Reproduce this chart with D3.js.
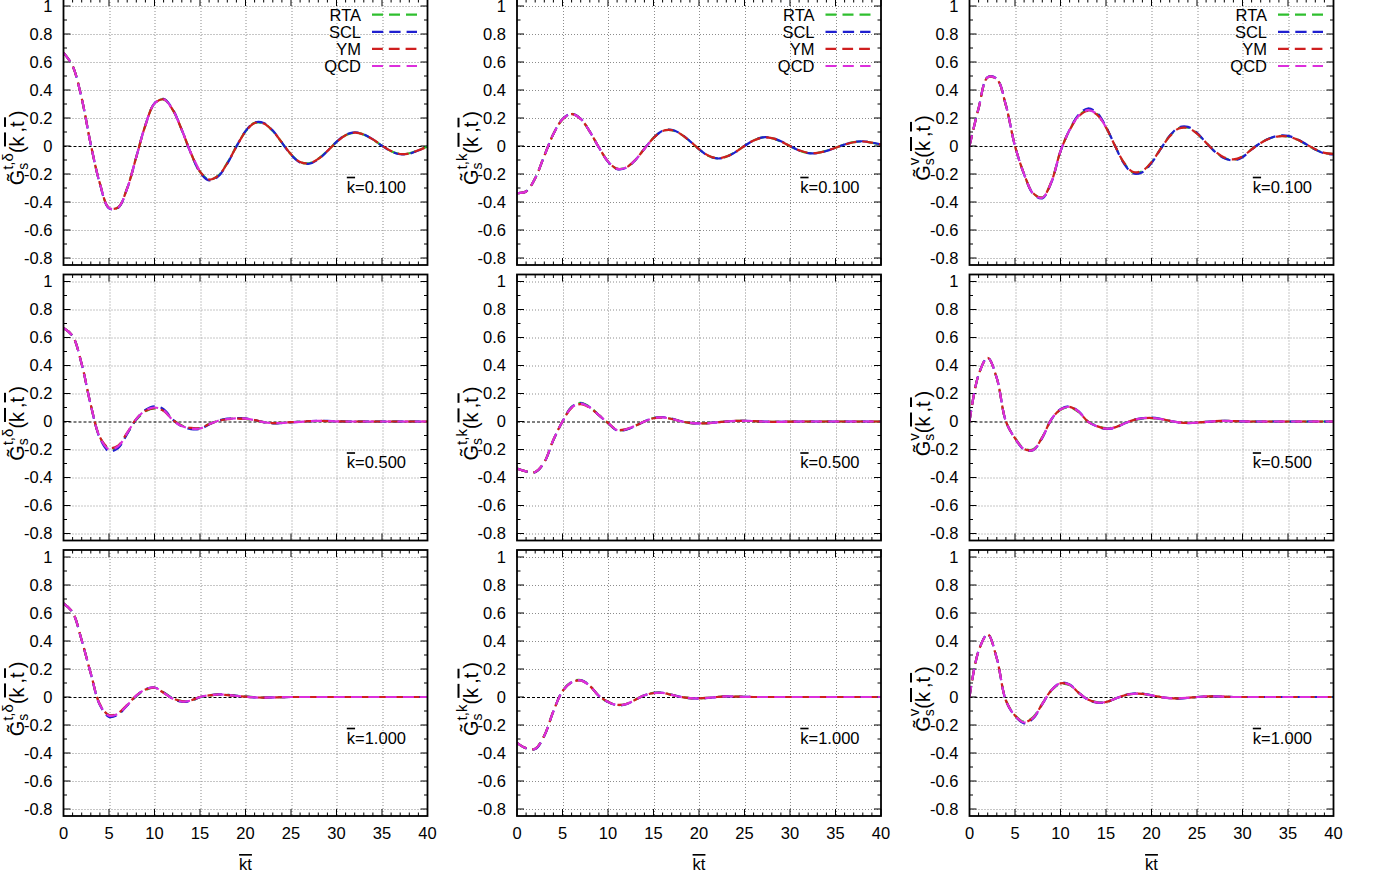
<!DOCTYPE html>
<html>
<head>
<meta charset="utf-8">
<script src="https://cdn.jsdelivr.net/npm/d3@7"></script>
<style>
  html, body { margin: 0; padding: 0; background: #fff; }
  svg { display: block; font-family: "Liberation Sans", Arial, Helvetica, sans-serif; }
</style>
</head>
<body>
<svg id="chart" width="1373" height="879"></svg>
<script>
// ---- sample grid (k̄ t̄) ----
const ktSteps = [0,1,2,3,4,5,6,7,8,9,10,11,12,13,14,15,16,17,18,19,20,
                 21,22,23,24,25,26,27,28,29,30,31,32,33,34,35,36,37,38,39,40];

// ---- tick values ----
const xTickValues = [0,5,10,15,20,25,30,35,40];
const yTickValues = [-0.8,-0.6,-0.4,-0.2,0,0.2,0.4,0.6,0.8,1];
const xTickLabels = ["0","5","10","15","20","25","30","35","40"];
const yTickLabels = ["-0.8","-0.6","-0.4","-0.2","0","0.2","0.4","0.6","0.8","1"];

// ---- series / panels ----
const seriesNames = ["RTA","SCL","YM","QCD"];
const kbarLabels = ["0.100","0.500","1.000"];
const channelSup = ["t,\u03b4","t,k","v"];

// G^{t,δ}, k̄ = 0.1
const rtaDelta01 = [0.667,0.572,0.34,0.01,-0.268,-0.442,-0.439,-0.301,-0.078,0.148,0.303,0.333,0.258,0.114,-0.051,-0.184,-0.24,-0.212,-0.121,-0.003,0.104,0.165,0.161,0.107,0.024,-0.06,-0.115,-0.123,-0.091,-0.035,0.029,0.077,0.095,0.081,0.046,0.002,-0.037,-0.057,-0.052,-0.03,-0.003];
const sclDelta01 = [0.667,0.572,0.34,0.01,-0.27,-0.446,-0.443,-0.303,-0.079,0.15,0.305,0.337,0.262,0.115,-0.052,-0.188,-0.246,-0.218,-0.126,-0.004,0.106,0.168,0.165,0.11,0.024,-0.062,-0.118,-0.127,-0.095,-0.036,0.03,0.079,0.098,0.084,0.047,0.002,-0.038,-0.059,-0.055,-0.032,-0.004];
const ymDelta01  = [0.667,0.572,0.34,0.01,-0.268,-0.441,-0.438,-0.301,-0.079,0.148,0.302,0.333,0.259,0.115,-0.05,-0.183,-0.239,-0.212,-0.123,-0.005,0.103,0.164,0.161,0.108,0.025,-0.059,-0.114,-0.123,-0.092,-0.036,0.028,0.077,0.095,0.082,0.047,0.003,-0.036,-0.057,-0.053,-0.031,-0.004];
const qcdDelta01 = [0.667,0.572,0.34,0.01,-0.268,-0.443,-0.44,-0.302,-0.079,0.148,0.303,0.334,0.259,0.115,-0.05,-0.183];

// G^{t,k}, k̄ = 0.1
const rtaK01 = [-0.336,-0.325,-0.23,-0.07,0.085,0.19,0.229,0.194,0.103,-0.01,-0.111,-0.163,-0.153,-0.1,-0.019,0.058,0.108,0.114,0.085,0.034,-0.023,-0.069,-0.088,-0.076,-0.042,0.001,0.04,0.061,0.056,0.032,-0.001,-0.032,-0.05,-0.049,-0.034,-0.012,0.011,0.028,0.032,0.023,0.009];
const sclK01 = [-0.336,-0.325,-0.23,-0.07,0.086,0.192,0.23,0.195,0.103,-0.011,-0.112,-0.165,-0.156,-0.101,-0.02,0.058,0.109,0.116,0.087,0.035,-0.023,-0.07,-0.089,-0.078,-0.044,0.0,0.04,0.062,0.058,0.034,0.0,-0.032,-0.051,-0.051,-0.036,-0.013,0.011,0.028,0.034,0.025,0.011];
const ymK01  = [-0.336,-0.325,-0.23,-0.07,0.085,0.19,0.228,0.193,0.103,-0.01,-0.11,-0.162,-0.153,-0.1,-0.02,0.057,0.107,0.113,0.085,0.035,-0.022,-0.068,-0.087,-0.076,-0.043,0.0,0.039,0.06,0.056,0.033,0.0,-0.031,-0.049,-0.049,-0.035,-0.013,0.01,0.027,0.032,0.024,0.01];
const qcdK01 = [-0.336,-0.325,-0.23,-0.07,0.085,0.191,0.229,0.194,0.103,-0.01,-0.111,-0.163,-0.154,-0.1,-0.02,0.057];

// G^{v}, k̄ = 0.1
const rtaV01 = [0.0,0.27,0.49,0.478,0.29,0.0,-0.2,-0.338,-0.368,-0.256,-0.037,0.114,0.218,0.256,0.23,0.134,0.0,-0.123,-0.19,-0.18,-0.117,-0.02,0.071,0.128,0.131,0.09,0.022,-0.041,-0.085,-0.099,-0.076,-0.023,0.023,0.055,0.071,0.068,0.046,0.011,-0.025,-0.051,-0.057];
const sclV01 = [0.0,0.27,0.492,0.48,0.292,0.0,-0.202,-0.342,-0.374,-0.26,-0.038,0.116,0.224,0.268,0.238,0.138,0.0,-0.128,-0.197,-0.187,-0.122,-0.022,0.073,0.133,0.137,0.094,0.024,-0.042,-0.088,-0.103,-0.08,-0.025,0.023,0.056,0.074,0.072,0.049,0.013,-0.025,-0.053,-0.06];
const ymV01  = [0.0,0.27,0.49,0.477,0.29,0.0,-0.2,-0.338,-0.367,-0.255,-0.037,0.113,0.213,0.25,0.224,0.132,0.0,-0.121,-0.186,-0.176,-0.115,-0.021,0.069,0.125,0.128,0.089,0.023,-0.039,-0.082,-0.096,-0.075,-0.024,0.021,0.053,0.069,0.067,0.046,0.012,-0.023,-0.049,-0.056];
const qcdV01 = [0.0,0.27,0.491,0.479,0.291,0.0,-0.201,-0.34,-0.37,-0.257,-0.037,0.114,0.216,0.256,0.228,0.133];

// G^{t,δ}, k̄ = 0.5
const rtaDelta05 = [0.668,0.611,0.41,0.118,-0.113,-0.195,-0.182,-0.085,0.012,0.072,0.094,0.078,0.015,-0.028,-0.048,-0.047,-0.018,0.006,0.018,0.022,0.018,0.008,-0.005,-0.011,-0.009,-0.004,-0.001,0.002,0.003,0.002,0.001,0,0,0,0,0,0,0,0,0,0];
const sclDelta05 = [0.668,0.611,0.41,0.116,-0.12,-0.212,-0.19,-0.088,0.016,0.082,0.108,0.088,0.014,-0.035,-0.054,-0.053,-0.022,0.006,0.02,0.025,0.022,0.011,-0.005,-0.013,-0.011,-0.006,-0.002,0.002,0.005,0.004,0.001,0,0,0,0,0,0,0,0,0,0];
const ymDelta05  = [0.668,0.611,0.41,0.118,-0.112,-0.188,-0.172,-0.08,0.018,0.076,0.095,0.076,0.012,-0.03,-0.046,-0.046,-0.02,0.004,0.016,0.021,0.019,0.01,-0.004,-0.011,-0.009,-0.005,-0.002,0.002,0.004,0.003,0.001,0,0,0,0,0,0,0,0,0,0];
const qcdDelta05 = [0.668,0.611,0.41,0.118,-0.114,-0.198,-0.178,-0.082,0.018,0.079,0.1,0.08,0.01,-0.033,-0.05,-0.05,-0.02,0.005,0.018,0.023,0.02,0.01,-0.005,-0.012,-0.01,-0.006,-0.002,0.002,0.004,0.003,0.001,0,0,0,0,0,0,0,0,0,0];

// G^{t,k}, k̄ = 0.5
const rtaK05 = [-0.336,-0.356,-0.36,-0.29,-0.132,0.0,0.104,0.134,0.104,0.046,-0.012,-0.062,-0.056,-0.03,0.001,0.025,0.03,0.018,0.002,-0.011,-0.014,-0.011,-0.005,0.0,0.004,0.005,0.003,0.0,-0.002,-0.002,-0.001,0,0,0,0,0,0,0,0,0,0];
const sclK05 = [-0.336,-0.357,-0.362,-0.292,-0.133,0.0,0.103,0.132,0.102,0.045,-0.012,-0.064,-0.058,-0.032,0.0,0.025,0.031,0.02,0.003,-0.01,-0.014,-0.012,-0.006,0.0,0.004,0.005,0.003,0.0,-0.002,-0.002,-0.001,0,0,0,0,0,0,0,0,0,0];
const ymK05  = [-0.336,-0.356,-0.36,-0.29,-0.13,0.0,0.098,0.124,0.098,0.045,-0.01,-0.06,-0.054,-0.03,0.0,0.023,0.028,0.018,0.002,-0.01,-0.013,-0.011,-0.006,0.0,0.004,0.005,0.003,0.0,-0.002,-0.002,-0.001,0,0,0,0,0,0,0,0,0,0];
const qcdK05 = [-0.336,-0.356,-0.36,-0.29,-0.13,0.0,0.1,0.127,0.1,0.045,-0.01,-0.062,-0.055,-0.03,0.0,0.024,0.029,0.018,0.002,-0.01,-0.014,-0.012,-0.006,0.0,0.004,0.005,0.003,0.0,-0.002,-0.002,-0.001,0,0,0,0,0,0,0,0,0,0];

// G^{v}, k̄ = 0.5
const rtaV05 = [0.0,0.335,0.454,0.309,0.0,-0.118,-0.194,-0.199,-0.112,0.015,0.083,0.101,0.067,0.001,-0.031,-0.048,-0.04,-0.013,0.01,0.021,0.024,0.017,0.005,-0.006,-0.01,-0.008,-0.003,0.002,0.004,0.003,0.001,0,0,0,0,0,0,0,0,0,0];
const sclV05 = [0.0,0.335,0.456,0.311,0.0,-0.121,-0.2,-0.206,-0.117,0.015,0.088,0.108,0.072,0.0,-0.035,-0.053,-0.045,-0.015,0.011,0.024,0.027,0.019,0.005,-0.007,-0.011,-0.009,-0.003,0.002,0.004,0.003,0.001,0,0,0,0,0,0,0,0,0,0];
const ymV05  = [0.0,0.335,0.454,0.309,0.0,-0.119,-0.196,-0.201,-0.113,0.016,0.085,0.104,0.069,0.0,-0.033,-0.05,-0.042,-0.014,0.01,0.022,0.025,0.018,0.005,-0.006,-0.01,-0.008,-0.003,0.002,0.004,0.003,0.001,0,0,0,0,0,0,0,0,0,0];
const qcdV05 = [0.0,0.335,0.455,0.31,0.0,-0.12,-0.198,-0.203,-0.114,0.016,0.086,0.105,0.07,0.0,-0.034,-0.051,-0.043,-0.014,0.01,0.023,0.025,0.018,0.005,-0.006,-0.01,-0.008,-0.003,0.002,0.004,0.003,0.001,0,0,0,0,0,0,0,0,0,0];

// G^{t,δ}, k̄ = 1.0
const rtaDelta10 = [0.668,0.605,0.405,0.168,-0.053,-0.13,-0.12,-0.058,0.006,0.05,0.066,0.033,-0.008,-0.03,-0.026,-0.002,0.01,0.017,0.015,0.009,0.003,-0.002,-0.004,-0.003,-0.001,0,0,0,0,0,0,0,0,0,0,0,0,0,0,0,0];
const sclDelta10 = [0.668,0.605,0.405,0.166,-0.058,-0.142,-0.126,-0.06,0.008,0.055,0.068,0.032,-0.012,-0.034,-0.027,-0.001,0.012,0.019,0.016,0.009,0.002,-0.003,-0.004,-0.003,-0.001,0,0,0,0,0,0,0,0,0,0,0,0,0,0,0,0];
const ymDelta10  = [0.668,0.605,0.405,0.168,-0.052,-0.128,-0.115,-0.055,0.01,0.053,0.066,0.03,-0.01,-0.03,-0.024,0.0,0.011,0.017,0.014,0.008,0.002,-0.003,-0.004,-0.003,-0.001,0,0,0,0,0,0,0,0,0,0,0,0,0,0,0,0];
const qcdDelta10 = [0.668,0.605,0.405,0.168,-0.055,-0.133,-0.12,-0.058,0.01,0.055,0.068,0.03,-0.012,-0.032,-0.025,0.0,0.012,0.018,0.015,0.008,0.002,-0.003,-0.004,-0.003,-0.001,0,0,0,0,0,0,0,0,0,0,0,0,0,0,0,0];

// G^{t,k}, k̄ = 1.0
const rtaK10 = [-0.327,-0.365,-0.369,-0.275,-0.101,0.043,0.108,0.121,0.08,0.007,-0.035,-0.057,-0.05,-0.019,0.013,0.029,0.03,0.015,0.0,-0.008,-0.01,-0.006,0.0,0.004,0.003,0.001,0,0,0,0,0,0,0,0,0,0,0,0,0,0,0];
const sclK10 = [-0.327,-0.366,-0.372,-0.278,-0.103,0.042,0.106,0.12,0.08,0.008,-0.036,-0.059,-0.052,-0.021,0.012,0.029,0.03,0.016,0.001,-0.008,-0.011,-0.007,0.0,0.004,0.003,0.001,0,0,0,0,0,0,0,0,0,0,0,0,0,0,0];
const ymK10  = [-0.327,-0.365,-0.369,-0.275,-0.101,0.042,0.105,0.118,0.079,0.008,-0.034,-0.056,-0.05,-0.02,0.012,0.028,0.029,0.015,0.0,-0.008,-0.01,-0.006,0.0,0.004,0.003,0.001,0,0,0,0,0,0,0,0,0,0,0,0,0,0,0];
const qcdK10 = [-0.327,-0.365,-0.37,-0.276,-0.102,0.042,0.106,0.119,0.079,0.008,-0.035,-0.057,-0.051,-0.02,0.012,0.028,0.029,0.015,0.0,-0.008,-0.01,-0.006,0.0,0.004,0.003,0.001,0,0,0,0,0,0,0,0,0,0,0,0,0,0,0];

// G^{v}, k̄ = 1.0
const rtaV10 = [0.0,0.33,0.447,0.275,-0.024,-0.13,-0.176,-0.143,-0.047,0.046,0.094,0.085,0.03,-0.017,-0.036,-0.035,-0.012,0.01,0.022,0.022,0.012,0.0,-0.008,-0.01,-0.006,0.0,0.004,0.004,0.002,0,0,0,0,0,0,0,0,0,0,0,0];
const sclV10 = [0.0,0.33,0.449,0.277,-0.026,-0.136,-0.188,-0.154,-0.052,0.049,0.1,0.09,0.031,-0.019,-0.04,-0.038,-0.013,0.012,0.025,0.024,0.013,0.0,-0.009,-0.011,-0.007,0.0,0.004,0.004,0.002,0,0,0,0,0,0,0,0,0,0,0,0];
const ymV10  = [0.0,0.33,0.447,0.275,-0.025,-0.132,-0.18,-0.147,-0.049,0.048,0.097,0.087,0.03,-0.018,-0.038,-0.036,-0.012,0.011,0.023,0.023,0.012,0.0,-0.008,-0.01,-0.006,0.0,0.004,0.004,0.002,0,0,0,0,0,0,0,0,0,0,0,0];
const qcdV10 = [0.0,0.33,0.448,0.276,-0.025,-0.133,-0.182,-0.148,-0.049,0.049,0.098,0.088,0.03,-0.018,-0.038,-0.036,-0.012,0.011,0.023,0.023,0.012,0.0,-0.008,-0.01,-0.006,0.0,0.004,0.004,0.002,0,0,0,0,0,0,0,0,0,0,0,0];

// panels laid out row by row (k̄), column by column (channel)
const panelSeries = [
  [[rtaDelta01, sclDelta01, ymDelta01, qcdDelta01], [rtaK01, sclK01, ymK01, qcdK01], [rtaV01, sclV01, ymV01, qcdV01]],
  [[rtaDelta05, sclDelta05, ymDelta05, qcdDelta05], [rtaK05, sclK05, ymK05, qcdK05], [rtaV05, sclV05, ymV05, qcdV05]],
  [[rtaDelta10, sclDelta10, ymDelta10, qcdDelta10], [rtaK10, sclK10, ymK10, qcdK10], [rtaV10, sclV10, ymV10, qcdV10]]
];

// ---- styling / layout ----
const seriesColors = ["#2fbf2f", "#1f1fcf", "#cf1f1f", "#dc2fdc"];
const seriesDash = ["11,6", "11.3,6", "10.8,6", "11,6.3"];
const colLeft = [63.5, 517, 969.5];
const rowTop = [-1, 274.5, 550];
const plotW = 364, plotH = 266;
const fontSize = 16.5;

const svg = d3.select("#chart");
const x = d3.scaleLinear().domain([0, 40]).range([0, plotW]);
const y = d3.scaleLinear().domain([-0.85, 1.05]).range([plotH, 0]);

svg.append("defs").append("clipPath").attr("id", "plotClip")
  .append("rect").attr("x", 0).attr("y", 0).attr("width", plotW).attr("height", plotH);

const line = d3.line()
  .x(d => x(d[0]))
  .y(d => y(d[1]))
  .curve(d3.curveCatmullRom.alpha(0.5));

const xMinor = d3.range(0, 41, 1).filter(v => v % 5 !== 0);
const yMinor = [-0.7,-0.5,-0.3,-0.1,0.1,0.3,0.5,0.7,0.9];

// rotated axis title: G̃_s^{sup}(k̄ ,t̄ )
function yTitle(g, sup) {
  const t = g.append("text")
    .attr("transform", `translate(${-39.5},${plotH / 2 + 16}) rotate(-90)`)
    .attr("text-anchor", "middle")
    .attr("font-size", 20)
    .attr("fill", "#000");
  t.append("tspan").text("G\u0303");
  t.append("tspan").attr("font-size", 14).attr("dy", 4).text("s");
  t.append("tspan").attr("font-size", 15).attr("dx", -7).attr("dy", -15).text(sup);
  t.append("tspan").attr("dy", 11).text("(");
  t.append("tspan").style("text-decoration", "overline").text("k\u2009");
  t.append("tspan").text(",");
  t.append("tspan").style("text-decoration", "overline").text("t\u2009");
  t.append("tspan").text(")");
}

for (let r = 0; r < 3; r++) {
  for (let c = 0; c < 3; c++) {
    const g = svg.append("g").attr("transform", `translate(${colLeft[c]},${rowTop[r]})`);

    // grid
    g.append("g").selectAll("line").data(xTickValues.filter(v => v > 0 && v < 40)).join("line")
      .attr("x1", d => Math.round(x(d)) + 0.5).attr("x2", d => Math.round(x(d)) + 0.5)
      .attr("y1", 0).attr("y2", plotH)
      .attr("stroke", "#8c8c8c").attr("stroke-width", 1).attr("stroke-dasharray", "1,2");
    g.append("g").selectAll("line").data(yTickValues.filter(v => v !== 0)).join("line")
      .attr("x1", 0).attr("x2", plotW)
      .attr("y1", d => Math.round(y(d)) + 0.5).attr("y2", d => Math.round(y(d)) + 0.5)
      .attr("stroke", "#8c8c8c").attr("stroke-width", 1).attr("stroke-dasharray", "1,2");
    // zero axis
    g.append("line")
      .attr("x1", 0).attr("x2", plotW)
      .attr("y1", Math.round(y(0)) + 0.5).attr("y2", Math.round(y(0)) + 0.5)
      .attr("stroke", "#000").attr("stroke-width", 1).attr("stroke-dasharray", "3,2");

    // ticks, mirrored on all four sides
    const tk = g.append("g").attr("stroke", "#000").attr("stroke-width", 1);
    xTickValues.forEach(v => {
      const px = x(v);
      tk.append("line").attr("x1", px).attr("x2", px).attr("y1", plotH).attr("y2", plotH - 7);
      tk.append("line").attr("x1", px).attr("x2", px).attr("y1", 0).attr("y2", 7);
    });
    xMinor.forEach(v => {
      const px = x(v);
      tk.append("line").attr("x1", px).attr("x2", px).attr("y1", plotH).attr("y2", plotH - 3.5);
      tk.append("line").attr("x1", px).attr("x2", px).attr("y1", 0).attr("y2", 3.5);
    });
    yTickValues.forEach(v => {
      const py = y(v);
      tk.append("line").attr("x1", 0).attr("x2", 7).attr("y1", py).attr("y2", py);
      tk.append("line").attr("x1", plotW).attr("x2", plotW - 7).attr("y1", py).attr("y2", py);
    });
    yMinor.forEach(v => {
      const py = y(v);
      tk.append("line").attr("x1", 0).attr("x2", 3.5).attr("y1", py).attr("y2", py);
      tk.append("line").attr("x1", plotW).attr("x2", plotW - 3.5).attr("y1", py).attr("y2", py);
    });

    // curves
    const curves = g.append("g").attr("clip-path", "url(#plotClip)");
    panelSeries[r][c].forEach((vals, i) => {
      const pts = vals.map((v, j) => [ktSteps[j], v]);
      curves.append("path")
        .attr("d", line(pts))
        .attr("fill", "none")
        .attr("stroke", seriesColors[i])
        .attr("stroke-width", 2.2)
        .attr("stroke-dasharray", seriesDash[i]);
    });

    // frame
    g.append("rect").attr("x", 0).attr("y", 0).attr("width", plotW).attr("height", plotH)
      .attr("fill", "none").attr("stroke", "#000").attr("stroke-width", 1.8);

    // y tick labels
    g.append("g").selectAll("text").data(yTickValues).join("text")
      .attr("x", -11).attr("y", d => y(d)).attr("dy", "0.36em")
      .attr("text-anchor", "end").attr("font-size", fontSize).attr("fill", "#000")
      .text((d, i) => yTickLabels[i]);

    // x tick labels on the bottom row
    if (r === 2) {
      g.append("g").selectAll("text").data(xTickValues).join("text")
        .attr("x", d => x(d)).attr("y", plotH + 23)
        .attr("text-anchor", "middle").attr("font-size", fontSize).attr("fill", "#000")
        .text((d, i) => xTickLabels[i]);
      const xl = g.append("text").attr("x", plotW / 2).attr("y", plotH + 54)
        .attr("text-anchor", "middle").attr("font-size", fontSize).attr("fill", "#000");
      xl.append("tspan").style("text-decoration", "overline").text("kt");
    }

    // y title
    yTitle(g, channelSup[c]);

    // k̄ annotation
    const kt = g.append("text").attr("x", plotW - 21.5).attr("y", 193.7)
      .attr("text-anchor", "end").attr("font-size", fontSize).attr("fill", "#000");
    kt.append("tspan").style("text-decoration", "overline").text("k");
    kt.append("tspan").text("=" + kbarLabels[r]);

    // legend on the top row
    if (r === 0) {
      const lg = g.append("g");
      seriesNames.forEach((name, i) => {
        const ly = 15.7 + i * 17.1;
        lg.append("text").attr("x", plotW - 66.5).attr("y", ly).attr("dy", "0.36em")
          .attr("text-anchor", "end").attr("font-size", fontSize).attr("fill", "#000").text(name);
        lg.append("line").attr("x1", plotW - 55.5).attr("x2", plotW - 10.5)
          .attr("y1", ly).attr("y2", ly)
          .attr("stroke", seriesColors[i]).attr("stroke-width", 2.2)
          .attr("stroke-dasharray", seriesDash[i]);
      });
    }
  }
}
</script>
</body>
</html>
